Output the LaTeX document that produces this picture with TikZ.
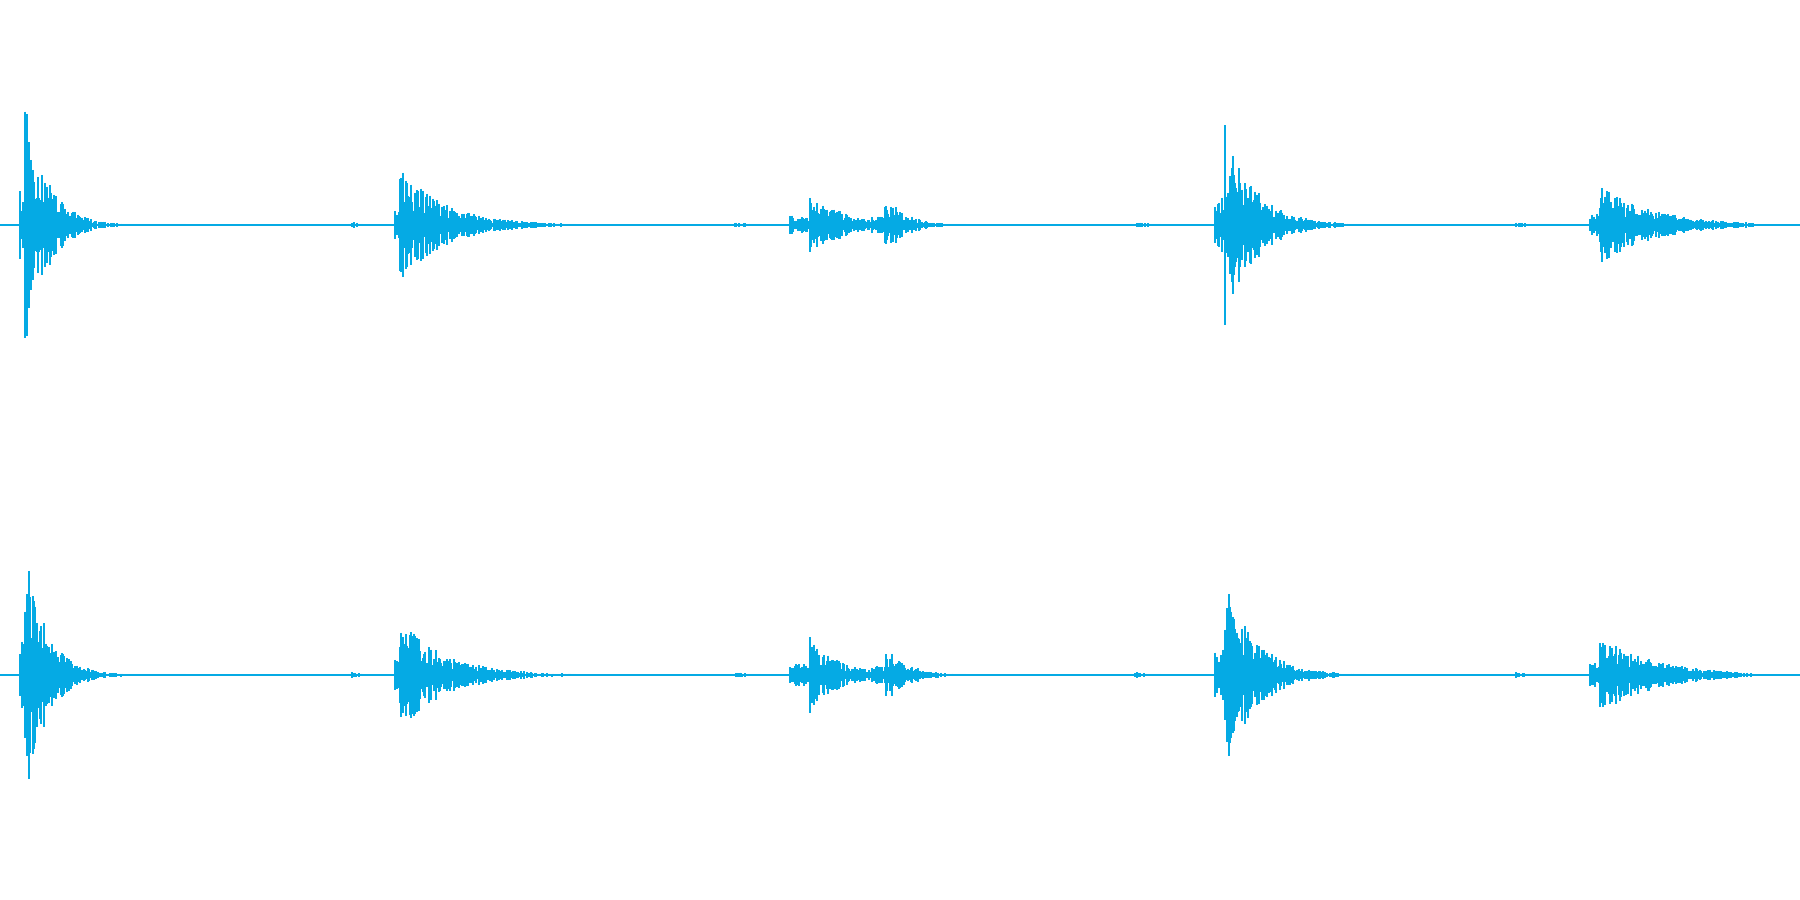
\documentclass[tikz,border=0pt]{standalone}
\usetikzlibrary{positioning}
\definecolor{wavecol}{RGB}{5,170,228}
% one burst of the waveform: y, start, peak, amp, tau, end
\newcommand\burst[6]{%
 \foreach \x in {#2,...,#6}{
  \pgfmathsetmacro\env{(\x<#3)?#4*0.3:#4*exp(-(\x-#3)/#5)}
  \pgfmathsetmacro\h{max(1.2,\env*(0.25+0.75*rnd))}
  \draw[wave] (\x,#1-\h) -- (\x,#1+\h);}}
\newcommand\channel[1]{%
 \draw[wave,line width=0.3pt] (0,#1) -- (1800,#1);
 \burst{#1}{20}{25}{125}{22}{185}
 \burst{#1}{348}{352}{3}{20}{362}
 \burst{#1}{395}{400}{58}{45}{575}
 \burst{#1}{730}{735}{3}{20}{760}
 \burst{#1}{790}{810}{38}{30}{870}
 \burst{#1}{872}{885}{30}{22}{965}
 \burst{#1}{1130}{1135}{3}{20}{1160}
 \burst{#1}{1215}{1225}{100}{30}{1365}
 \burst{#1}{1510}{1515}{3}{20}{1560}
 \burst{#1}{1590}{1600}{40}{55}{1753}}
\begin{document}
\begin{tikzpicture}[x=0.01cm,y=-0.01cm]
\tikzset{wave/.style={wavecol,line width=0.5pt}}
\pgfmathsetseed{7}
\useasboundingbox (0,0) rectangle (1800,900);
\channel{225}
\channel{675}
\end{tikzpicture}
\end{document}
